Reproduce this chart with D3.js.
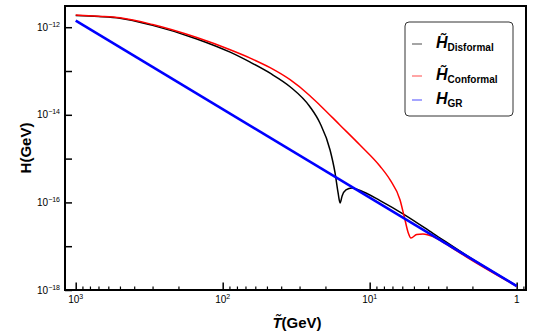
<!DOCTYPE html>
<html>
<head>
<meta charset="utf-8">
<script src="https://cdn.jsdelivr.net/npm/d3@7"></script>
<style>
  body { margin: 0; background: #fff; }
  svg { display: block; font-family: "Liberation Sans", Arial, sans-serif; }
</style>
</head>
<body>
<svg id="chart" width="540" height="334"></svg>
<script>
// disformal curve
const tDis = [1000, 700, 500, 300, 150, 89, 65, 47.6, 34.8, 25.5, 21.8, 18.6, 17.2, 16.4, 15.9, 15.4, 14.5, 13.2, 11.6, 8.5, 5.75, 3.71, 2.18, 1];
const hDis = [1.85e-12, 1.75e-12, 1.6e-12, 1.1e-12, 5.4e-13, 2.69e-13, 1.59e-13, 8.9e-14, 4.38e-14, 1.53e-14, 6.5e-15, 1.57e-15, 4.7e-16, 1.64e-16, 9.7e-17, 1.4e-16, 1.92e-16, 2.13e-16, 1.87e-16, 1.1e-16, 5.15e-17, 1.97e-17, 6.1e-18, 1.25e-18];
// conformal curve
const tConf = [1000, 700, 500, 300, 150, 89, 65, 47.6, 34.8, 25.5, 21.8, 15.9, 11.6, 8.5, 7.28, 6.22, 5.75, 5.46, 5.24, 4.79, 4.34, 3.71, 3.22, 2.84, 2.19, 1];
const hConf = [1.9e-12, 1.78e-12, 1.64e-12, 1.15e-12, 5.8e-13, 3.06e-13, 1.97e-13, 1.19e-13, 6.32e-14, 2.73e-14, 1.66e-14, 5.8e-15, 2.02e-15, 6.7e-16, 3.3e-16, 1.15e-16, 3.96e-17, 2.0e-17, 1.54e-17, 1.85e-17, 1.9e-17, 1.66e-17, 1.28e-17, 9.84e-18, 5.66e-18, 1.22e-18];
// GR
const tGR = [1000, 1];
const hGR = [1.41e-12, 1.23e-18];

const xMajor = [1000, 100, 10, 1];
const xLabels = [["10", "3"], ["10", "2"], ["10", "1"], ["1", ""]];
const yMajor = [1e-18, 1e-17, 1e-16, 1e-15, 1e-14, 1e-13, 1e-12];
const yLabels = [["10", "\u221218"], null, ["10", "\u221216"], null, ["10", "\u221214"], null, ["10", "\u221212"]];

const legendNames = ["Disformal", "Conformal", "GR"];
const legendColors = ["#000", "#ff0000", "#0000ff"];

const margin = { top: 6, right: 14, bottom: 44, left: 65 },
  width = 540 - margin.left - margin.right,
  height = 334 - margin.top - margin.bottom;

const svg = d3.select("#chart");
const g = svg.append("g").attr("transform", `translate(${margin.left},${margin.top})`);

const x = d3.scaleLog().domain([1182.6, 0.864]).range([0, width]);
const y = d3.scaleLog().domain([1e-18, 3.05e-12]).range([height, 0]);

// minor ticks on x
const xMinor = [];
[1, 10, 100, 1000].forEach(dec => {
  for (let k = 2; k <= 9; k++) {
    const v = dec * k;
    if (v < x.domain()[0] && v > x.domain()[1]) xMinor.push(v);
  }
});
xMinor.push(0.9);

g.append("g")
  .attr("transform", `translate(0,${height})`)
  .call(d3.axisBottom(x).tickValues(xMinor).tickSize(-3.5).tickFormat(""))
  .call(a => a.select(".domain").remove())
  .selectAll("line").attr("stroke", "#000").attr("stroke-width", 1.2);

g.append("g")
  .attr("transform", `translate(0,${height})`)
  .call(d3.axisBottom(x).tickValues(xMajor).tickSize(-7.5).tickFormat(""))
  .call(a => a.select(".domain").remove())
  .selectAll("line").attr("stroke", "#000").attr("stroke-width", 1.5);

g.append("g")
  .call(d3.axisLeft(y).tickValues(yMajor).tickSize(-7).tickFormat(""))
  .call(a => a.select(".domain").remove())
  .selectAll("line").attr("stroke", "#000").attr("stroke-width", 1.5);

// x tick labels
xMajor.forEach((v, i) => {
  const t = g.append("text")
    .attr("x", x(v))
    .attr("y", height + 13)
    .attr("text-anchor", "middle")
    .style("font-size", "10px");
  t.append("tspan").text(xLabels[i][0]);
  if (xLabels[i][1]) t.append("tspan").attr("dy", -4).style("font-size", "7px").text(xLabels[i][1]);
});

// y tick labels
yMajor.forEach((v, i) => {
  if (!yLabels[i]) return;
  const t = g.append("text")
    .attr("x", -5)
    .attr("y", y(v) + 3.5)
    .attr("text-anchor", "end")
    .style("font-size", "10px");
  t.append("tspan").text(yLabels[i][0]);
  t.append("tspan").attr("dy", -4).style("font-size", "7px").text(yLabels[i][1]);
});

// curves
const line = d3.line()
  .x(d => x(d[0]))
  .y(d => y(d[1]))
  .curve(d3.curveMonotoneX);

const plot = g.append("g");
plot.append("path")
  .datum(tDis.map((t, i) => [t, hDis[i]]))
  .attr("d", line).attr("fill", "none").attr("stroke", "#000").attr("stroke-width", 1.5);
plot.append("path")
  .datum(tConf.map((t, i) => [t, hConf[i]]))
  .attr("d", line).attr("fill", "none").attr("stroke", "#ff0000").attr("stroke-width", 1.5);
plot.append("path")
  .datum(tGR.map((t, i) => [t, hGR[i]]))
  .attr("d", line).attr("fill", "none").attr("stroke", "#0000ff").attr("stroke-width", 2.6);

// frame
g.append("rect")
  .attr("width", width).attr("height", height)
  .attr("fill", "none").attr("stroke", "#000").attr("stroke-width", 2);

// axis titles
const xt = svg.append("text")
  .attr("x", 297).attr("y", 328)
  .attr("text-anchor", "middle")
  .style("font-size", "15px").style("font-weight", "bold");
xt.append("tspan").style("font-style", "italic").text("T\u0303");
xt.append("tspan").text("(GeV)");

svg.append("text")
  .attr("transform", "translate(31,148) rotate(-90)")
  .attr("text-anchor", "middle")
  .style("font-size", "15px").style("font-weight", "bold")
  .text("H(GeV)");

// legend
const lg = svg.append("g");
lg.append("rect")
  .attr("x", 405).attr("y", 22).attr("width", 108).attr("height", 94).attr("rx", 4)
  .attr("fill", "#fff").attr("stroke", "#333").attr("stroke-width", 1);
const ly = [44, 76, 100];
legendNames.forEach((name, i) => {
  lg.append("line")
    .attr("x1", 412).attr("x2", 422).attr("y1", ly[i]).attr("y2", ly[i])
    .attr("stroke", legendColors[i]).attr("stroke-width", 1).attr("opacity", 0.7);
  const t = lg.append("text")
    .attr("x", 436).attr("y", ly[i] + 4)
    .style("font-weight", "bold");
  t.append("tspan").style("font-style", "italic").style("font-size", "16px")
    .text(i < 2 ? "H\u0303" : "H");
  t.append("tspan").attr("dy", 3).style("font-size", "10px").text(name);
});
</script>
</body>
</html>
